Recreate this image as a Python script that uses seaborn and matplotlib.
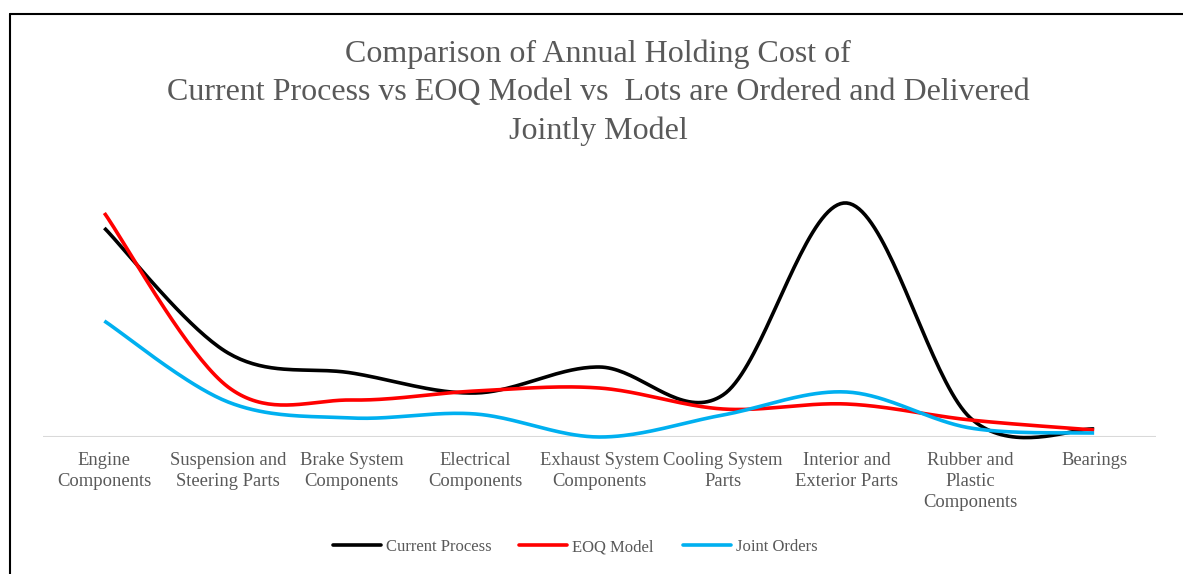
import numpy as np
import pandas as pd
import matplotlib
matplotlib.use("Agg")
import matplotlib.pyplot as plt
import seaborn as sns
from matplotlib.lines import Line2D

categories = ["Engine\nComponents", "Suspension and\nSteering Parts", "Brake System\nComponents",
              "Electrical\nComponents", "Exhaust System\nComponents", "Cooling System\nParts",
              "Interior and\nExterior Parts", "Rubber and\nPlastic\nComponents", "Bearings"]
current_process = [209, 84, 64, 44, 70, 42, 234, 19, 8]
eoq_model = [224, 50, 37, 46, 49, 28, 33, 17, 7]
joint_orders = [116, 35, 19, 23, 0, 22, 45, 9, 4]

series_names = ["Current Process", "EOQ Model", "Joint Orders"]
series_values = [current_process, eoq_model, joint_orders]
colors = ["#000000", "#FF0000", "#00B0F0"]

title = ("Comparison of Annual Holding Cost of\n"
         "Current Process vs EOQ Model vs  Lots are Ordered and Delivered\n"
         "Jointly Model")


def smooth(vals, n=40):
    """Catmull-Rom style Bezier smoothing (like Excel smoothed lines)."""
    p = np.column_stack([np.arange(len(vals)), np.asarray(vals, float)])
    xs, ys = [], []
    for i in range(len(p) - 1):
        p0 = p[i - 1] if i > 0 else p[i]
        p1, p2 = p[i], p[i + 1]
        p3 = p[i + 2] if i + 2 < len(p) else p[i + 1]
        c1 = p1 + (p2 - p0) / 6.0
        c2 = p2 - (p3 - p1) / 6.0
        t = np.linspace(0, 1, n, endpoint=(i == len(p) - 2))[:, None]
        b = ((1 - t) ** 3) * p1 + 3 * ((1 - t) ** 2) * t * c1 + 3 * (1 - t) * t ** 2 * c2 + t ** 3 * p2
        xs.append(b[:, 0]); ys.append(b[:, 1])
    return np.concatenate(xs), np.concatenate(ys)


sns.set_theme(style="white")
plt.rcParams['font.family'] = ['Liberation Serif', 'DejaVu Serif']

W, H = 1183, 574
fig = plt.figure(figsize=(W / 100, H / 100), dpi=100)
left, right = 42.5, 1156
bottom_px, top_px = 437, 180
ax = fig.add_axes([left / W, 1 - bottom_px / H, (right - left) / W, (bottom_px - top_px) / H])

for name, vals, col in zip(series_names, series_values, colors):
    sx, sy = smooth(vals)
    df = pd.DataFrame({"x": sx, "y": sy})
    sns.lineplot(data=df, x="x", y="y", ax=ax, color=col, linewidth=2.6, sort=False,
                 estimator=None, legend=False)
for l in ax.lines:
    l.set_clip_on(False)
    l.set_solid_capstyle("butt")

ax.set_xlim(-0.5, len(categories) - 0.5)
ax.set_ylim(0, bottom_px - top_px)
ax.axhline(0, color="#D9D9D9", linewidth=1.5, zorder=0)
for s in ax.spines.values():
    s.set_visible(False)
ax.set_yticks([])
ax.set_xticks(range(len(categories)))
ax.set_xticklabels(categories, fontsize=13.4, color="#595959", linespacing=1.3)
ax.tick_params(axis="x", length=0, pad=11)
ax.set_xlabel("")
ax.set_ylabel("")

fig.text(598 / W, 1 - 92.5 / H, title, ha="center", va="center", fontsize=23,
         color="#595959", linespacing=1.42)

# legend entries (Excel-style spacing)
legend_x = [333, 519, 683]
for name, col, lx in zip(series_names, colors, legend_x):
    fig.legend([Line2D([0], [0], color=col, linewidth=2.6)], [name], loc="center left",
               bbox_to_anchor=(lx / W, 1 - 547 / H), frameon=False, fontsize=12,
               handlelength=2.9, handletextpad=0.25, borderpad=0, borderaxespad=0,
               labelcolor="#595959")

# chart area border (left and top visible)
fig.add_artist(Line2D([10 / W, 10 / W], [0, 1 - 14 / H], color="black", linewidth=1.5,
                      transform=fig.transFigure))
fig.add_artist(Line2D([10 / W, 1], [1 - 14 / H, 1 - 14 / H], color="black", linewidth=1.5,
                      transform=fig.transFigure))

fig.savefig("out.png", dpi=100, facecolor="white")
